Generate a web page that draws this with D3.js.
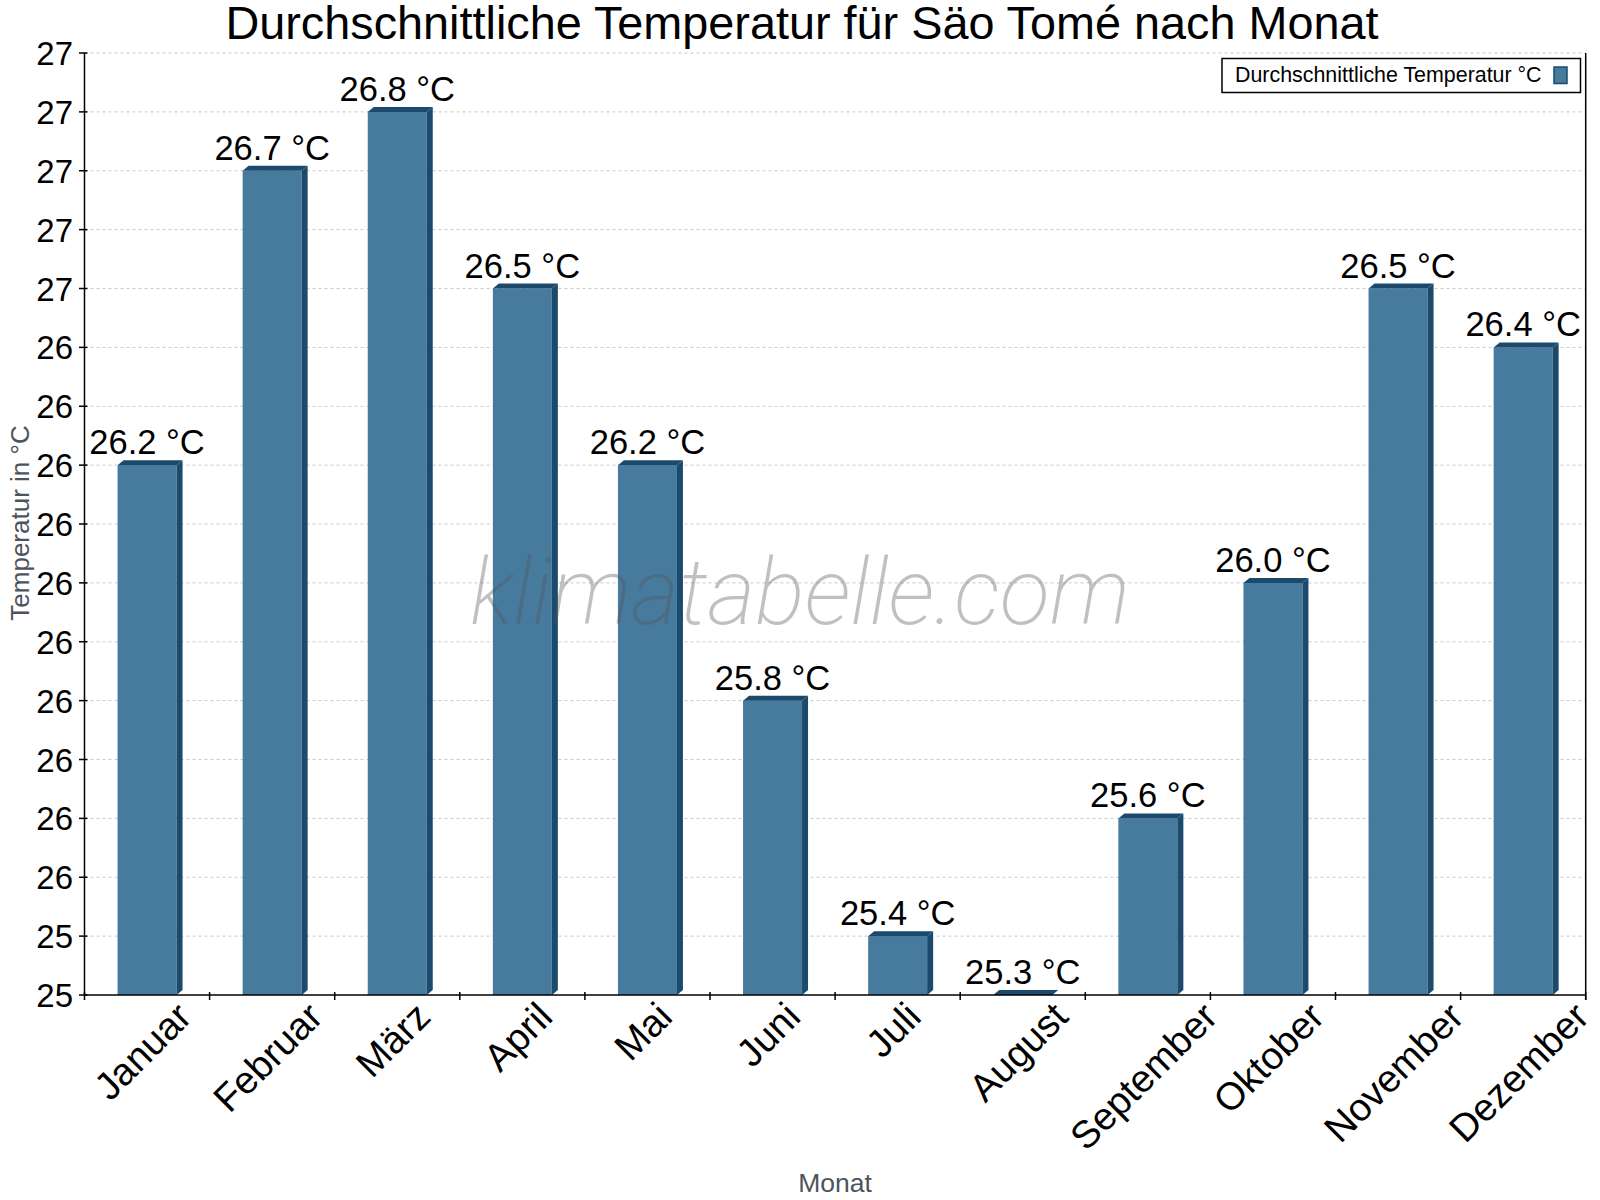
<!DOCTYPE html>
<html>
<head>
<meta charset="utf-8">
<script src="https://cdn.jsdelivr.net/npm/d3@7"></script>
<style>
  body { margin: 0; background: #fff; }
  text { font-family: "Liberation Sans", Arial, sans-serif; }
</style>
</head>
<body>
<div id="vis"></div>
<script>
// monthly mean temperatures, Sao Tome
var months = ['Januar', 'Februar', 'März', 'April', 'Mai', 'Juni', 'Juli',
              'August', 'September', 'Oktober', 'November', 'Dezember'];
var temps = [26.2, 26.7, 26.8, 26.5, 26.2, 25.8, 25.4, 25.3, 25.6, 26.0, 26.5, 26.4];
var yTicks = [25.3, 25.4, 25.5, 25.6, 25.7, 25.8, 25.9, 26.0, 26.1, 26.2,
              26.3, 26.4, 26.5, 26.6, 26.7, 26.8, 26.9];

var W = 1600, H = 1200;
var pLeft = 84.5, pRight = 1585.7, pTop = 53, pBottom = 995;
var front = '#467b9d', dark = '#1b4a6d';
var dx = 6, dy = 5;

var svg = d3.select('#vis').append('svg')
        .attr('width', W)
        .attr('height', H);

var x = d3.scaleBand().domain(months).range([pLeft, pRight]);
var y = d3.scaleLinear().domain([25.3, 26.9]).range([pBottom, pTop]);

// grid
svg.append('g').selectAll('line')
  .data(yTicks.slice(1))
  .join('line')
  .attr('x1', pLeft).attr('x2', pRight)
  .attr('y1', d => y(d)).attr('y2', d => y(d))
  .attr('stroke', '#c8c8c8')
  .attr('stroke-dasharray', '3,3');

// bars (front, side, top)
var bw = 59;
var bars = svg.append('g').selectAll('g')
  .data(months)
  .join('g');

bars.each(function(m, i) {
  var g = d3.select(this);
  var x0 = x(m) + x.bandwidth() / 2 - bw / 2, x1 = x0 + bw;
  var yt = y(temps[i]);
  if (pBottom - yt > 0.5) {
    g.append('rect')
      .attr('x', x0).attr('y', yt)
      .attr('width', bw).attr('height', pBottom - yt)
      .attr('fill', front);
    g.append('polygon')
      .attr('points', [[x1, yt], [x1 + dx, yt - dy], [x1 + dx, pBottom - dy], [x1, pBottom]].join(' '))
      .attr('fill', dark);
  }
  g.append('polygon')
    .attr('points', [[x0, yt], [x0 + dx, yt - dy], [x1 + dx, yt - dy], [x1, yt]].join(' '))
    .attr('fill', dark);
});

// value labels
svg.append('g').selectAll('text')
  .data(months)
  .join('text')
  .attr('x', d => x(d) + x.bandwidth() / 2)
  .attr('y', (d, i) => y(temps[i]) - 11)
  .attr('text-anchor', 'middle')
  .attr('font-size', 34.5)
  .attr('fill', '#000')
  .text((d, i) => temps[i].toFixed(1) + ' °C');

// axes
svg.append('line').attr('x1', pLeft).attr('x2', pLeft).attr('y1', pTop).attr('y2', pBottom)
  .attr('stroke', '#000').attr('stroke-width', 1.5);
svg.append('line').attr('x1', pRight).attr('x2', pRight).attr('y1', pTop).attr('y2', pBottom + 5)
  .attr('stroke', '#000').attr('stroke-width', 1.5);
svg.append('line').attr('x1', pLeft).attr('x2', pRight).attr('y1', pBottom).attr('y2', pBottom)
  .attr('stroke', '#000').attr('stroke-width', 1.5);

var yAx = svg.append('g');
yAx.selectAll('line')
  .data(yTicks)
  .join('line')
  .attr('x1', pLeft - 5.5).attr('x2', pLeft + 3)
  .attr('y1', d => y(d)).attr('y2', d => y(d))
  .attr('stroke', '#000').attr('stroke-width', 1.5);
yAx.selectAll('text')
  .data(yTicks)
  .join('text')
  .attr('x', 73)
  .attr('y', d => y(d) + 12)
  .attr('text-anchor', 'end')
  .attr('font-size', 33)
  .text(d => Math.round(d));

var bounds = months.map(m => x(m)).concat([pRight]);
svg.append('g').selectAll('line')
  .data(bounds)
  .join('line')
  .attr('x1', d => d).attr('x2', d => d)
  .attr('y1', pBottom - 3).attr('y2', pBottom + 5)
  .attr('stroke', '#000').attr('stroke-width', 1.5);

// month labels, rotated box centred under the band
svg.append('g').selectAll('text')
  .data(months)
  .join('text')
  .attr('text-anchor', 'end')
  .attr('font-size', 38.5)
  .text(d => d)
  .attr('transform', function(d) {
    var L = this.getComputedTextLength();
    var cx = x(d) + x.bandwidth() / 2;
    return 'translate(' + (cx + 5 + L * 0.3536) + ',' + 1019 + ') rotate(-45)';
  });

// titles
svg.append('text')
  .attr('x', 802).attr('y', 39)
  .attr('text-anchor', 'middle')
  .attr('font-size', 46.8)
  .text('Durchschnittliche Temperatur für Säo Tomé nach Monat');

svg.append('text')
  .attr('x', (pLeft + pRight) / 2).attr('y', 1192)
  .attr('text-anchor', 'middle')
  .attr('font-size', 26.5)
  .attr('fill', '#4d545c')
  .text('Monat');

svg.append('text')
  .attr('transform', 'translate(29,523) rotate(-90)')
  .attr('text-anchor', 'middle')
  .attr('font-size', 26)
  .attr('fill', '#4d545c')
  .text('Temperatur in °C');

// legend
var lg = svg.append('g');
lg.append('rect')
  .attr('x', 1222).attr('y', 58.5).attr('width', 358.5).attr('height', 34)
  .attr('fill', '#fff').attr('stroke', '#000').attr('stroke-width', 1.5);
lg.append('text')
  .attr('x', 1235).attr('y', 82)
  .attr('font-size', 21.4)
  .text('Durchschnittliche Temperatur °C');
lg.append('rect')
  .attr('x', 1554).attr('y', 67).attr('width', 13).attr('height', 16.5)
  .attr('fill', front).attr('stroke', dark).attr('stroke-width', 1.5);

// watermark
svg.append('text')
  .attr('x', 800).attr('y', 624)
  .attr('text-anchor', 'middle')
  .attr('font-size', 92.5)
  .attr('font-style', 'italic')
  .attr('font-weight', 200)
  .style('font-family', 'Roboto, "Liberation Sans", sans-serif')
  .attr('fill', 'rgba(85,85,85,0.37)')
  .text('klimatabelle.com');
</script>
</body>
</html>
